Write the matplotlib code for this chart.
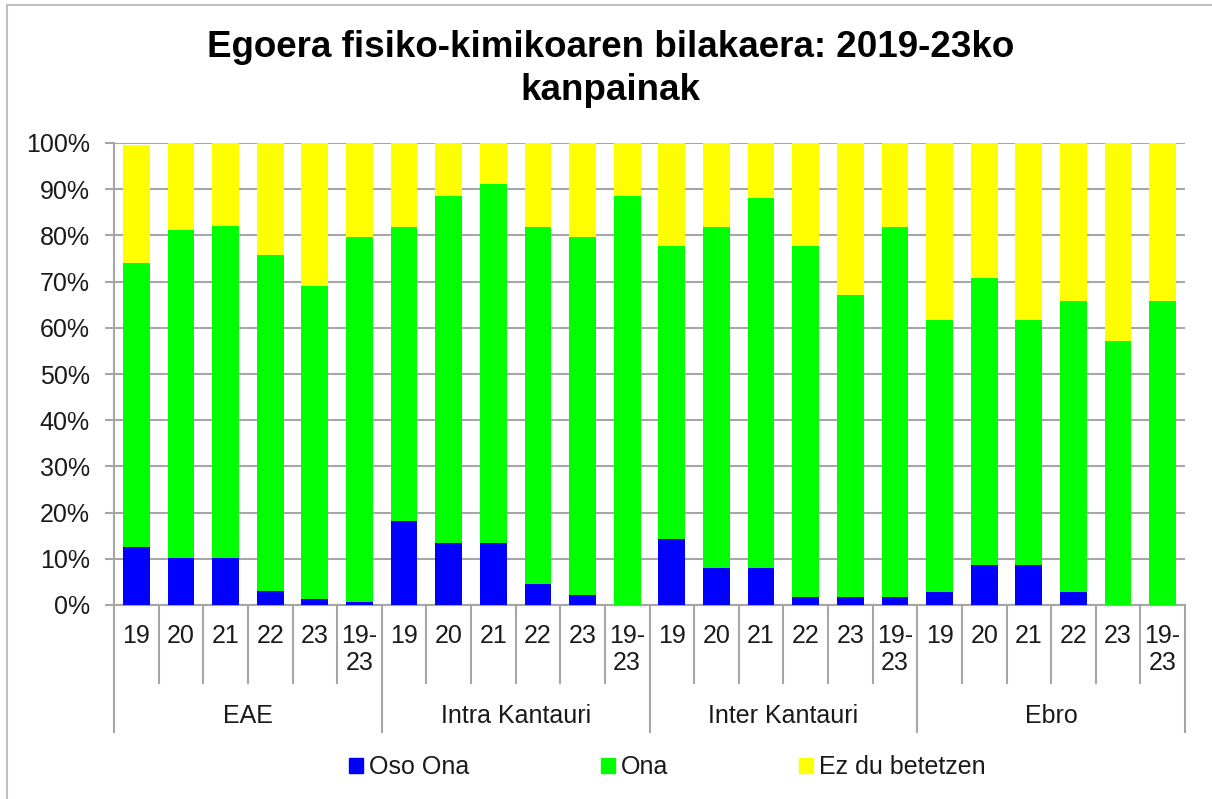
import numpy as np
import matplotlib
matplotlib.use("Agg")
import matplotlib.pyplot as plt
from matplotlib.patches import Patch, Rectangle
from matplotlib.ticker import MultipleLocator, PercentFormatter

plt.rcParams['font.family'] = ['Liberation Sans', 'DejaVu Sans']

# datuak (ehunekoak)
taldeak = ["EAE", "Intra Kantauri", "Inter Kantauri", "Ebro"]
urteak = ["19", "20", "21", "22", "23", "19-\n23"]

oso_ona = [12.5, 10.1, 10.1, 3.1, 1.4, 0.7,
           18.1, 13.5, 13.5, 4.5, 2.1, 0.0,
           14.2, 8.0, 8.0, 1.7, 1.7, 1.7,
           2.8, 8.7, 8.7, 2.8, 0.0, 0.0]
ona = [61.6, 71.0, 72.0, 72.7, 67.6, 79.0,
       63.7, 75.1, 77.6, 77.3, 77.6, 88.6,
       63.4, 73.8, 80.0, 75.9, 65.5, 80.1,
       58.9, 62.0, 53.0, 63.0, 57.2, 65.8]
ez_du = [25.5, 18.9, 17.9, 24.2, 31.0, 20.3,
         18.2, 11.4, 8.9, 18.2, 20.3, 11.4,
         22.4, 18.2, 12.0, 22.4, 32.8, 18.2,
         38.3, 29.3, 38.3, 34.2, 42.8, 34.2]

kolore_blue = "#0000FF"
kolore_green = "#00FF00"
kolore_yellow = "#FFFF00"
gris = "#A6A6A6"

fig = plt.figure(figsize=(12.12, 7.99), dpi=100)
ax = fig.add_axes([114/1212, 1-605/799, (1185-114)/1212, (605-143)/799])

x = np.arange(len(oso_ona))
b1 = np.array(oso_ona)
b2 = b1 + np.array(ona)
w = 0.6
ax.bar(x, oso_ona, w, color=kolore_blue, zorder=3)
ax.bar(x, ona, w, bottom=b1, color=kolore_green, zorder=3)
ax.bar(x, ez_du, w, bottom=b2, color=kolore_yellow, zorder=3)

ax.set_xlim(-0.5, len(x) - 0.5)
ax.set_ylim(0, 100)
ax.yaxis.set_major_locator(MultipleLocator(10))
ax.yaxis.set_major_formatter(PercentFormatter(decimals=0))
ax.grid(axis='y', color=gris, linewidth=1.5, zorder=1)

for s in ['top', 'right']:
    ax.spines[s].set_visible(False)
for s in ['left', 'bottom']:
    ax.spines[s].set_color(gris)
    ax.spines[s].set_linewidth(1.5)

ax.tick_params(axis='y', length=6.5, width=1.5, color=gris, pad=11, labelsize=18, labelcolor="#1a1a1a")

# urteen etiketak
ax.set_xticks(x)
ax.set_xticklabels(urteak * len(taldeak), linespacing=1.15)
ax.tick_params(axis='x', length=0, pad=14, labelsize=18, labelcolor="#1a1a1a")

# bereizlerak ardatzaren azpian
trans = ax.get_xaxis_transform()
h_urte = (683 - 605) / 462
h_talde = (732 - 605) / 462
for i in range(len(x) + 1):
    pos = i - 0.5
    h = h_talde if i % len(urteak) == 0 else h_urte
    ax.plot([pos, pos], [0, -h], color=gris, linewidth=1.5, transform=trans, clip_on=False)

for j, t in enumerate(taldeak):
    c = j * len(urteak) + (len(urteak) - 1) / 2
    ax.text(c, -(716 - 605) / 462, t, transform=trans, ha='center', va='center',
            fontsize=18, color="#1a1a1a")

fig.suptitle("Egoera fisiko-kimikoaren bilakaera: 2019-23ko\nkanpainak",
             x=0.504, y=0.963, fontsize=26.5, fontweight='bold', linespacing=1.3)

# legenda
izenak = ["Oso Ona", "Ona", "Ez du betetzen"]
koloreak = [kolore_blue, kolore_green, kolore_yellow]
posak = [349, 601, 799]
for izen, kol, px in zip(izenak, koloreak, posak):
    leg = fig.legend(handles=[Patch(color=kol, label=izen)], loc='center left',
                     bbox_to_anchor=(px/1212, 1-767/799), frameon=False, fontsize=18,
                     handlelength=0.55, handleheight=0.55, handletextpad=0.25,
                     borderpad=0, borderaxespad=0)
    for t in leg.get_texts():
        t.set_color("#1a1a1a")

# kanpoko markoa
fig.patches.append(Rectangle((7/1212, -0.05), 1.2, 1-5/799+0.05, transform=fig.transFigure,
                             fill=False, edgecolor="#BFBFBF", linewidth=1.5))

fig.savefig("out.png", dpi=100)
